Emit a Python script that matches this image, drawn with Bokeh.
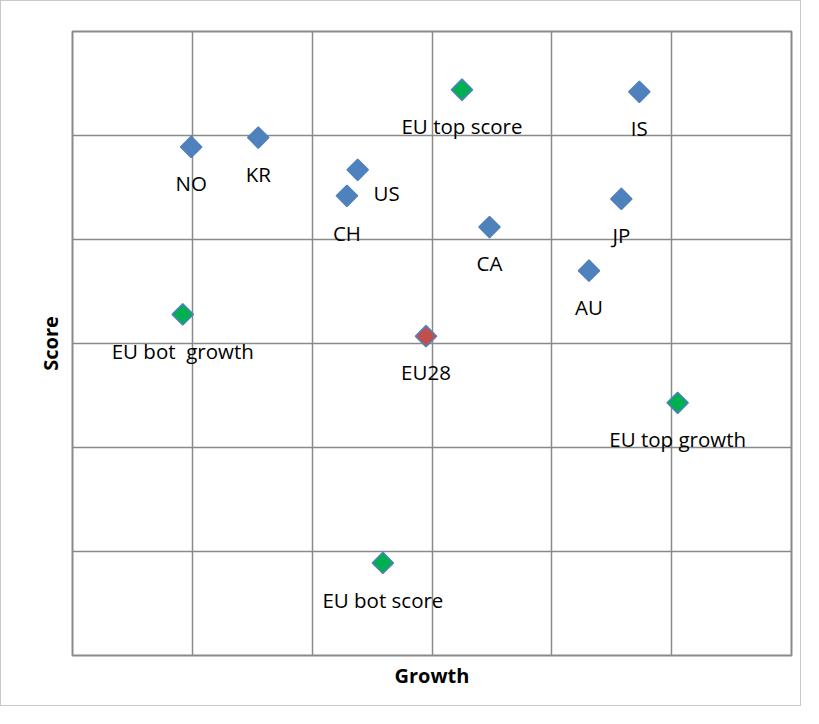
import numpy as np
from bokeh.plotting import figure
from bokeh.models import Range1d, FixedTicker, ColumnDataSource
from bokeh.embed import file_html
from bokeh.resources import INLINE
from bokeh.core.properties import value

# Data (grid units: growth 0..6, score 0..6)
names = ["NO", "KR", "US", "CH", "CA", "IS", "JP", "AU",
         "EU top score", "EU bot\u00a0 growth", "EU28", "EU top growth", "EU bot score"]
growth = [0.99, 1.55, 2.38, 2.29, 3.48, 4.73, 4.58, 4.31,
          3.25, 0.92, 2.95, 5.05, 2.59]
score = [4.89, 4.98, 4.67, 4.42, 4.12, 5.42, 4.39, 3.70,
         5.44, 3.28, 3.07, 2.43, 0.89]
group = ["country"] * 8 + ["eu_ext", "eu_ext", "eu28", "eu_ext", "eu_ext"]
label_dx = [0, 0, 29, 0, 0, 0, 0, 0, 0, 0, 0, 0, 0]
label_dy = [36, 36, 23, 37, 36, 36, 36, 36, 36, 37, 36, 36, 37]

grid_ticks = [0, 1, 2, 3, 4, 5, 6]

fill_map = {"country": "#4F81BD", "eu_ext": "#00B050", "eu28": "#C0504D"}
fills = [fill_map[g] for g in group]

src = ColumnDataSource(dict(x=growth, y=score, name=names, fill=fills,
                            dx=label_dx, dy=label_dy))

W, H = 801, 706
p = figure(width=W, height=H, output_backend="svg", toolbar_location=None,
           x_range=Range1d(0, 6), y_range=Range1d(0, 6),
           min_border_left=71, min_border_right=11, min_border_top=30,
           min_border_bottom=52)
p.styles = {"border": "1px solid #c8c8c8"}
p.background_fill_color = "white"
p.border_fill_color = "white"
p.outline_line_color = "#8a8a8a"
p.outline_line_width = 2

for ax in (p.xaxis[0], p.yaxis[0]):
    ax.ticker = FixedTicker(ticks=[])
    ax.major_tick_line_color = None
    ax.minor_tick_line_color = None
    ax.axis_line_color = None
    ax.axis_label_text_font = "Open Sans"
    ax.axis_label_text_font_style = "bold"
    ax.axis_label_text_font_size = "20px"
    ax.axis_label_text_color = "black"
    ax.major_label_standoff = 0
p.xaxis.axis_label = "Growth"
p.yaxis.axis_label = "Score"
p.xaxis.axis_label_standoff = 6
p.yaxis.axis_label_standoff = 9

p.xgrid.ticker = FixedTicker(ticks=grid_ticks)
p.ygrid.ticker = FixedTicker(ticks=grid_ticks)
p.grid.grid_line_color = "#8a8a8a"
p.grid.grid_line_width = 1.5

p.scatter("x", "y", source=src, marker="square", size=15, angle=np.pi / 4,
          fill_color="fill", line_color="#4F81BD", line_width=1.5)

p.text("x", "y", text="name", source=src, x_offset="dx", y_offset="dy",
       text_align="center", text_baseline="middle",
       text_font=value("Open Sans"), text_font_size="20.5px", text_color="black")

open("out.html", "w").write(file_html(p, INLINE))
